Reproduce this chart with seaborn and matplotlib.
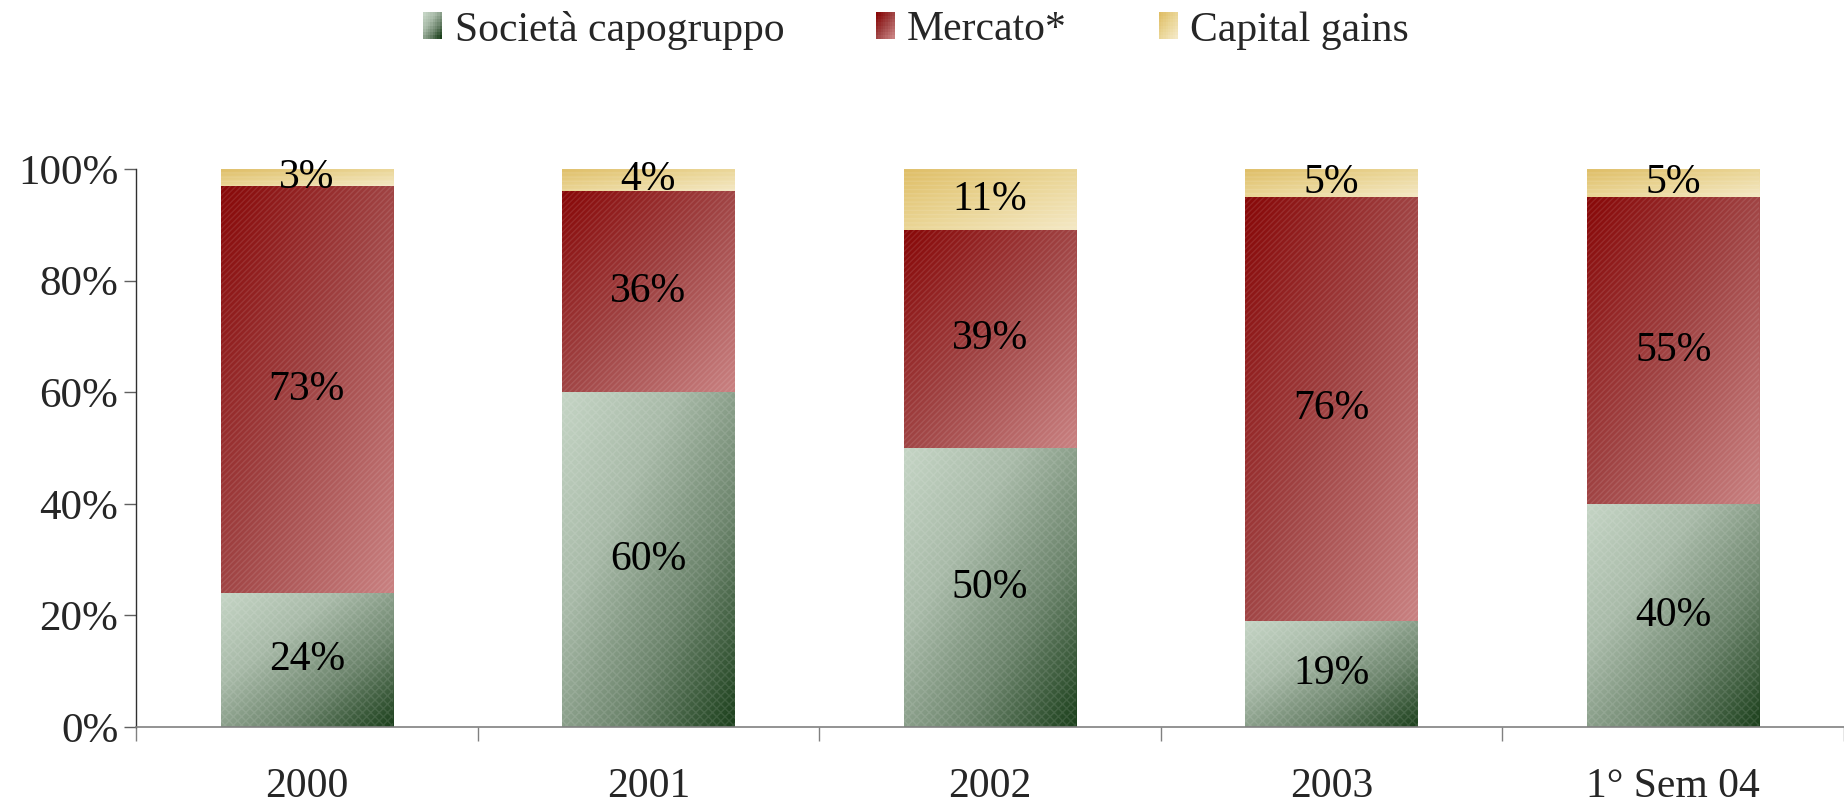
import numpy as np
import pandas as pd
import matplotlib
matplotlib.use("Agg")
import matplotlib.pyplot as plt
import seaborn as sns
from matplotlib.colors import LinearSegmentedColormap
from matplotlib.patches import Rectangle
from matplotlib.legend_handler import HandlerBase

# --- data --- #
periods = ["2000", "2001", "2002", "2003", "1° Sem 04"]
societa = [24, 60, 50, 19, 40]
mercato = [73, 36, 39, 76, 55]
capital_gains = [3, 4, 11, 5, 5]
series_names = ["Società capogruppo", "Mercato*", "Capital gains"]
y_ticks = [0, 20, 40, 60, 80, 100]

sns.set_style("white")
plt.rcParams["font.family"] = ["Liberation Serif", "DejaVu Serif"]

# gradient colours per series (top-left -> bottom-right)
cmaps = {
    "Società capogruppo": LinearSegmentedColormap.from_list(
        "g", ["#c4d4c4", "#a8baa8", "#6d856d", "#1c401c"]),
    "Mercato*": LinearSegmentedColormap.from_list(
        "r", ["#880808", "#a04444", "#c98181"]),
    "Capital gains": LinearSegmentedColormap.from_list(
        "y", ["#dfbe66", "#ead595", "#f4e8c4"]),
}
hatches = {"Società capogruppo": "xxxx", "Mercato*": "//////", "Capital gains": "----"}

df = pd.DataFrame({"period": periods,
                   "Società capogruppo": societa,
                   "Mercato*": mercato,
                   "Capital gains": capital_gains})

fig = plt.figure(figsize=(18.44, 8.06), dpi=100)
ax = fig.add_axes([0.07375, 0.098, 0.92625, 0.6923])

gy, gx = np.mgrid[0:1:64j, 0:1:64j]
grad = (gx + gy) / 2  # 0 at top-left, 1 at bottom-right (origin upper)

bottom = np.zeros(len(periods))
for name in series_names:
    vals = df[name].to_numpy()
    n0 = len(ax.patches)
    sns.barplot(data=df, x="period", y=name, order=periods, bottom=bottom,
                width=0.505, color="white", ax=ax, zorder=2)
    for patch in ax.patches[n0:]:
        x0, y0 = patch.get_x(), patch.get_y()
        w, h = patch.get_width(), patch.get_height()
        im = ax.imshow(grad, cmap=cmaps[name], extent=(x0, x0 + w, y0, y0 + h),
                       origin="upper", aspect="auto", interpolation="bicubic",
                       zorder=1)
        im.set_clip_path(patch)
        patch.set_facecolor("none")
        patch.set_edgecolor((1, 1, 1, 0.10))
        patch.set_linewidth(0)
        patch.set_hatch(hatches[name])
    for i, (v, b) in enumerate(zip(vals, bottom)):
        ax.text(i, b + v / 2, f"{v}%", ha="center", va="center",
                fontsize=30, color="black", zorder=3)
    bottom = bottom + vals

ax.set_xlim(-0.5, 4.43)
ax.set_ylim(0, 100)
ax.set_xlabel("")
ax.set_ylabel("")

ax.set_yticks(y_ticks)
ax.set_yticklabels([f"{t}%" for t in y_ticks])
ax.set_xticks(range(len(periods)))
ax.set_xticklabels(periods)
ax.set_xticks(np.arange(-0.5, len(periods)), minor=True)

ax.tick_params(axis="y", direction="out", length=8.6, width=1, color="#606060",
               pad=4, labelsize=31, left=True)
ax.tick_params(axis="x", which="major", length=0, pad=29, labelsize=30, bottom=True)
ax.tick_params(axis="x", which="minor", direction="out", length=10, width=1,
               color="#808080", bottom=True)

sns.despine(ax=ax)
ax.spines["left"].set_color("#303030")
ax.spines["bottom"].set_color("#808080")
ax.spines["left"].set_linewidth(1)
ax.spines["bottom"].set_linewidth(1.2)


class GradientHandler(HandlerBase):
    def __init__(self, cmap):
        super().__init__()
        self.cmap = cmap

    def create_artists(self, legend, orig_handle, xdescent, ydescent,
                       width, height, fontsize, trans):
        n = 8
        arts = []
        for r in range(n):
            for c in range(n):
                val = (c / (n - 1) + r / (n - 1)) / 2
                arts.append(Rectangle((-xdescent + c * width / n,
                                       -ydescent + height - (r + 1) * height / n),
                                      width / n + 0.2, height / n + 0.2,
                                      facecolor=self.cmap(val), edgecolor="none",
                                      transform=trans))
        return arts


handles = [Rectangle((0, 0), 1, 1) for _ in series_names]
fig.legend(handles, series_names,
           handler_map={h: GradientHandler(cmaps[n]) for h, n in zip(handles, series_names)},
           loc="center", bbox_to_anchor=(916 / 1844, 1 - 30 / 806), ncol=3,
           frameon=False, fontsize=30, handlelength=0.45, handleheight=0.6,
           handletextpad=0.3, columnspacing=2.2, borderpad=0)

fig.savefig("out.png", dpi=100)
